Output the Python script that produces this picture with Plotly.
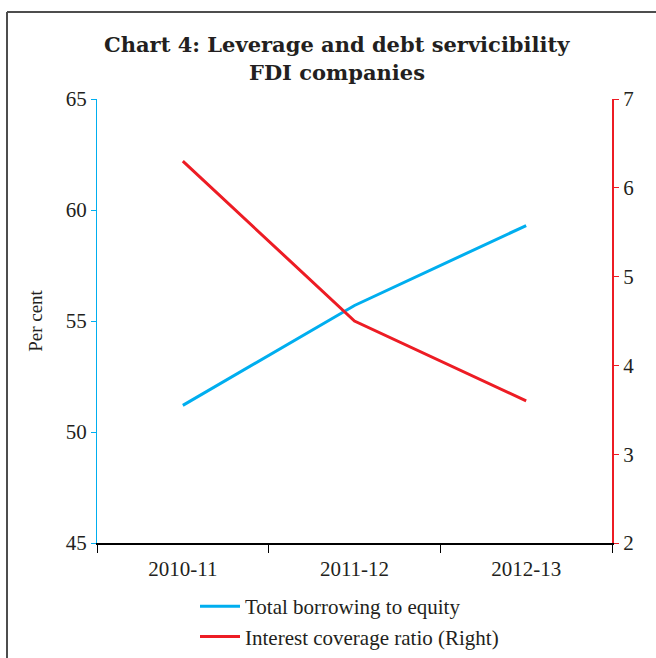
import plotly.graph_objects as go

categories = ["2010-11", "2011-12", "2012-13"]
borrowing_to_equity = [51.2, 55.7, 59.3]
interest_coverage = [6.3, 4.5, 3.6]
left_ticks = [45, 50, 55, 60, 65]
right_ticks = [2, 3, 4, 5, 6, 7]
title_lines = ["Chart 4: Leverage and debt servicibility", "FDI companies"]

BLUE = "#00AEEF"
RED = "#ED1C24"
TXT = "#231F20"
FONT = "Liberation Serif"
TFONT = "DejaVu Serif"

W, H = 656, 658
L, R, T, B = 97, 44, 99, 115
pw, ph = W - L - R, H - T - B

def px_x(x):
    return (x - L) / pw

def px_y(y):
    return (H - B - y) / ph

fig = go.Figure()
fig.add_trace(go.Scatter(x=categories, y=borrowing_to_equity, mode="lines",
                         line=dict(color=BLUE, width=3), name="Total borrowing to equity",
                         yaxis="y"))
fig.add_trace(go.Scatter(x=categories, y=interest_coverage, mode="lines",
                         line=dict(color=RED, width=3), name="Interest coverage ratio (Right)",
                         yaxis="y2"))

annotations = []
for text, ypix in zip(title_lines, [45, 72]):
    annotations.append(dict(text=f"<b>{text}</b>", xref="paper", yref="paper",
                            x=px_x(337), y=px_y(ypix), xanchor="center", yanchor="middle",
                            showarrow=False, font=dict(family=TFONT, size=21, color=TXT)))

fig.update_layout(
    width=W, height=H,
    margin=dict(l=L, r=R, t=T, b=B, autoexpand=False),
    paper_bgcolor="white", plot_bgcolor="white",
    font=dict(family=FONT, color=TXT, size=20),
    annotations=annotations,
    xaxis=dict(type="category", range=[-0.5, 2.5], showgrid=False, zeroline=False,
               showline=True, linecolor="black", linewidth=2,
               ticks="outside", tickson="boundaries", ticklen=8, tickcolor="black", tickwidth=1,
               ticklabelstandoff=6,
               tickfont=dict(size=21, color=TXT, family=FONT)),
    yaxis=dict(range=[45, 65], tickvals=left_ticks, showgrid=False, zeroline=False,
               showline=True, linecolor=BLUE, linewidth=1,
               ticks="outside", ticklen=5, tickcolor=BLUE, tickwidth=1,
               tickfont=dict(size=21, color=TXT, family=FONT),
               title=dict(text="Per cent", font=dict(size=19, color=TXT, family=FONT), standoff=18)),
    yaxis2=dict(range=[2, 7], tickvals=right_ticks, overlaying="y", side="right",
                showgrid=False, zeroline=False,
                showline=True, linecolor=RED, linewidth=2,
                ticks="outside", ticklen=5, tickcolor=RED, tickwidth=1,
                tickfont=dict(size=21, color=TXT, family=FONT)),
    showlegend=True,
    legend=dict(x=px_x(195), y=px_y(586), xanchor="left", yanchor="top",
                orientation="v", font=dict(size=21, color=TXT, family=FONT),
                bgcolor="rgba(0,0,0,0)", itemwidth=40, tracegroupgap=0),
    shapes=[
        dict(type="line", xref="paper", yref="paper", x0=px_x(7), x1=px_x(7),
             y0=px_y(12), y1=px_y(700), line=dict(color="#4d4d4d", width=2)),
        dict(type="line", xref="paper", yref="paper", x0=px_x(7), x1=px_x(700),
             y0=px_y(12), y1=px_y(12), line=dict(color="#4d4d4d", width=2)),
    ],
)

fig.write_html("out.html")
